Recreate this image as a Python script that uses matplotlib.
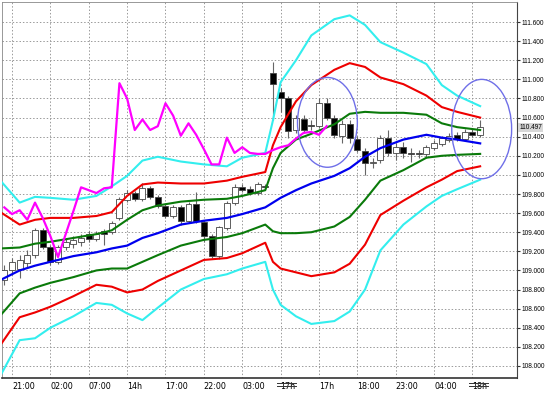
import numpy as np
import matplotlib.pyplot as plt
from matplotlib.patches import Ellipse

# hourly candles (open, close, high, low)
opens = [108.90, 109.00, 109.02, 109.08, 109.16, 109.42, 109.25, 109.09, 109.25, 109.28,
         109.30, 109.38, 109.33, 109.41, 109.40, 109.55, 109.74, 109.81, 109.75, 109.86,
         109.77, 109.67, 109.57, 109.66, 109.52, 109.70, 109.51, 109.36, 109.15, 109.44,
         109.71, 109.87, 109.85, 109.81, 109.88, 111.07, 110.87, 110.80, 110.47, 110.58,
         110.52, 110.51, 110.75, 110.60, 110.41, 110.53, 110.38, 110.25, 110.12, 110.16,
         110.39, 110.23, 110.29, 110.23, 110.23, 110.22, 110.28, 110.32, 110.37, 110.42,
         110.38, 110.45, 110.42]
closes = [109.00, 109.09, 109.11, 109.16, 109.42, 109.25, 109.09, 109.25, 109.30, 109.32,
          109.34, 109.33, 109.38, 109.38, 109.50, 109.75, 109.81, 109.75, 109.86, 109.77,
          109.67, 109.57, 109.66, 109.52, 109.70, 109.52, 109.36, 109.15, 109.45, 109.71,
          109.87, 109.84, 109.81, 109.90, 109.87, 110.95, 110.80, 110.46, 110.60, 110.47,
          110.51, 110.75, 110.60, 110.42, 110.53, 110.39, 110.26, 110.12, 110.14, 110.39,
          110.23, 110.29, 110.23, 110.22, 110.22, 110.29, 110.33, 110.39, 110.41, 110.38,
          110.45, 110.42, 110.50]
highs = [109.06, 109.13, 109.16, 109.21, 109.44, 109.44, 109.27, 109.27, 109.34, 109.36,
         109.38, 109.41, 109.41, 109.43, 109.52, 109.77, 109.84, 109.83, 109.92, 109.88,
         109.79, 109.70, 109.69, 109.68, 109.72, 109.82, 109.53, 109.38, 109.47, 109.73,
         109.90, 109.91, 109.88, 109.93, 109.91, 111.18, 110.91, 110.83, 110.63, 110.63,
         110.57, 110.80, 110.80, 110.63, 110.57, 110.57, 110.41, 110.28, 110.18, 110.42,
         110.47, 110.33, 110.34, 110.28, 110.26, 110.31, 110.37, 110.41, 110.44, 110.45,
         110.48, 110.48, 110.57]
lows = [108.85, 108.95, 108.92, 109.03, 109.13, 109.22, 109.06, 109.07, 109.21, 109.24,
        109.26, 109.30, 109.31, 109.27, 109.38, 109.53, 109.72, 109.73, 109.73, 109.75,
        109.65, 109.55, 109.55, 109.48, 109.50, 109.50, 109.30, 109.13, 109.12, 109.42,
        109.69, 109.82, 109.79, 109.79, 109.85, 110.57, 110.66, 110.39, 110.44, 110.44,
        110.47, 110.49, 110.57, 110.39, 110.33, 110.33, 110.24, 110.00, 110.07, 110.12,
        110.20, 110.16, 110.18, 110.14, 110.18, 110.18, 110.26, 110.30, 110.34, 110.35,
        110.35, 110.40, 110.40]

# band knots (bar index) and values
knots = [-0.5, 2, 4, 6, 9, 12, 14, 16, 18, 20, 23, 26, 29, 31, 34, 35, 36, 38, 40, 43,
         45, 47, 49, 52, 55, 57, 59, 62]
cyan_up = [109.94, 109.71, 109.77, 109.76, 109.74, 109.78, 109.88, 109.99, 110.15, 110.19,
           110.14, 110.11, 110.09, 110.18, 110.23, 110.57, 110.97, 111.20, 111.46, 111.63,
           111.67, 111.57, 111.39, 111.28, 111.16, 110.94, 110.83, 110.72]
red_up = [109.61, 109.48, 109.53, 109.55, 109.55, 109.57, 109.61, 109.78, 109.90, 109.92,
          109.91, 109.91, 109.94, 109.98, 110.03, 110.31, 110.50, 110.77, 110.94, 111.10,
          111.17, 111.13, 111.02, 110.95, 110.83, 110.71, 110.66, 110.60]
green_up = [109.23, 109.24, 109.28, 109.30, 109.34, 109.38, 109.42, 109.53, 109.63, 109.68,
            109.72, 109.74, 109.75, 109.78, 109.84, 110.07, 110.23, 110.37, 110.43, 110.53,
            110.64, 110.66, 110.65, 110.65, 110.63, 110.54, 110.50, 110.47]
mid = [108.90, 109.00, 109.05, 109.09, 109.15, 109.19, 109.23, 109.26, 109.34, 109.39,
       109.48, 109.52, 109.55, 109.59, 109.66, 109.71, 109.76, 109.84, 109.91, 109.99,
       110.07, 110.19, 110.28, 110.37, 110.42, 110.39, 110.37, 110.33]
green_dn = [108.53, 108.76, 108.82, 108.87, 108.93, 109.00, 109.02, 109.02, 109.09, 109.16,
            109.26, 109.32, 109.35, 109.39, 109.48, 109.41, 109.39, 109.39, 109.40, 109.46,
            109.56, 109.74, 109.94, 110.05, 110.18, 110.20, 110.21, 110.22]
red_dn = [108.22, 108.51, 108.56, 108.62, 108.73, 108.85, 108.83, 108.77, 108.80, 108.89,
          109.00, 109.11, 109.13, 109.18, 109.29, 109.09, 109.02, 108.98, 108.94, 108.98,
          109.07, 109.27, 109.58, 109.73, 109.87, 109.95, 110.04, 110.09]
cyan_dn = [107.90, 108.27, 108.29, 108.40, 108.52, 108.66, 108.64, 108.55, 108.48, 108.61,
           108.80, 108.91, 108.96, 109.02, 109.09, 108.80, 108.64, 108.52, 108.44, 108.47,
           108.57, 108.80, 109.21, 109.48, 109.67, 109.78, 109.85, 109.95]

# lagging span (bars 0..42)
lagging = [109.66, 109.59, 109.63, 109.53, 109.71, 109.55, 109.36, 109.14, 109.38, 109.62,
           109.87, 109.84, 109.81, 109.86, 109.87, 110.96, 110.80, 110.47, 110.58, 110.47,
           110.51, 110.75, 110.62, 110.41, 110.54, 110.42, 110.27, 110.11, 110.11, 110.39,
           110.23, 110.29, 110.23, 110.22, 110.22, 110.26, 110.29, 110.31, 110.38, 110.44,
           110.45, 110.42, 110.51]

grid_bars = [1, 6, 11, 16, 21, 26, 31, 36, 41, 46, 51, 56, 61]
time_labels = ['21:00', '02:00', '07:00', '14h', '17:00', '22:00', '03:00', '17h', '17h',
               '18:00', '23:00', '04:00', '18h']
price_ticks = [108.0, 108.2, 108.4, 108.6, 108.8, 109.0, 109.2, 109.4, 109.6, 109.8,
               110.0, 110.2, 110.4, 110.6, 110.8, 111.0, 111.2, 111.4, 111.6]
last_price = 110.497

fig = plt.figure(figsize=(5.46, 3.95), dpi=100)
ax = fig.add_axes([2 / 546, 1 - 378 / 395, 515 / 546, 376 / 395])

bars = np.arange(len(opens))
o = np.array(opens)
c = np.array(closes)
body_lo = np.minimum(o, c)
body_h = np.maximum(np.abs(c - o), 0.006)
body_col = ['black' if cc < oo else 'white' for oo, cc in zip(o, c)]

ax.vlines(bars, lows, highs, color='#666666', lw=0.8, zorder=2)
ax.bar(bars, body_h, bottom=body_lo, width=0.78, color=body_col,
       edgecolor='#444444', lw=0.6, zorder=3)

ax.plot(knots, cyan_up, color='#33eeee', lw=1.5, zorder=4)
ax.plot(knots, cyan_dn, color='#33eeee', lw=1.5, zorder=4)
ax.plot(knots, red_up, color='#ee0000', lw=1.5, zorder=4)
ax.plot(knots, red_dn, color='#ee0000', lw=1.5, zorder=4)
ax.plot(knots, green_up, color='#0a7a0a', lw=1.5, zorder=4)
ax.plot(knots, green_dn, color='#0a7a0a', lw=1.5, zorder=4)
ax.plot(knots, mid, color='#0000ee', lw=1.6, zorder=4)
ax.plot(np.arange(len(lagging)), lagging, color='#ff00ff', lw=1.6, zorder=5)

# highlight ellipses
for cx, cy, w, h in [(42.1, 110.55, 7.8, 0.94), (62.2, 110.48, 7.8, 1.04)]:
    ax.add_patch(Ellipse((cx, cy), w, h, fill=False, edgecolor='#6f6fe8', lw=1.0, zorder=6))

ax.set_xlim(-0.3, 66.8)
ax.set_ylim(107.874, 111.81)

ax.set_xticks(grid_bars)
ax.set_xticklabels(time_labels, fontsize=5.8, ha='left')
ax.set_yticks(price_ticks)
ax.set_yticklabels(['%.3f' % p for p in price_ticks], fontsize=4.7, family='Liberation Sans')
ax.yaxis.tick_right()
ax.tick_params(axis='y', length=2, pad=1, color='#333333')
ax.tick_params(axis='x', length=0, pad=3)

ax.grid(True, color='#9a9a9a', ls=(0, (1.5, 2)), lw=0.7)
ax.set_axisbelow(True)
for side in ['top', 'left']:
    ax.spines[side].set_color('#888888')
    ax.spines[side].set_linewidth(0.6)
ax.spines['right'].set_color('#444444')
ax.spines['bottom'].set_color('#333333')
ax.spines['bottom'].set_linewidth(1.2)

# day separators under the axis
for gb in [36, 61]:
    for dy in [-0.012, -0.02]:
        ax.plot([gb - 0.5, gb + 2.0], [dy, dy], color='#333333', lw=0.7,
                transform=ax.get_xaxis_transform(), clip_on=False)

ax.text(1.004, last_price, '%.3f' % last_price, transform=ax.get_yaxis_transform(),
        fontsize=4.7, family='Liberation Sans', va='center', ha='left',
        bbox=dict(boxstyle='square,pad=0.1', fc='#d8d8d8', ec='none'))

fig.savefig('out.png', dpi=100)
